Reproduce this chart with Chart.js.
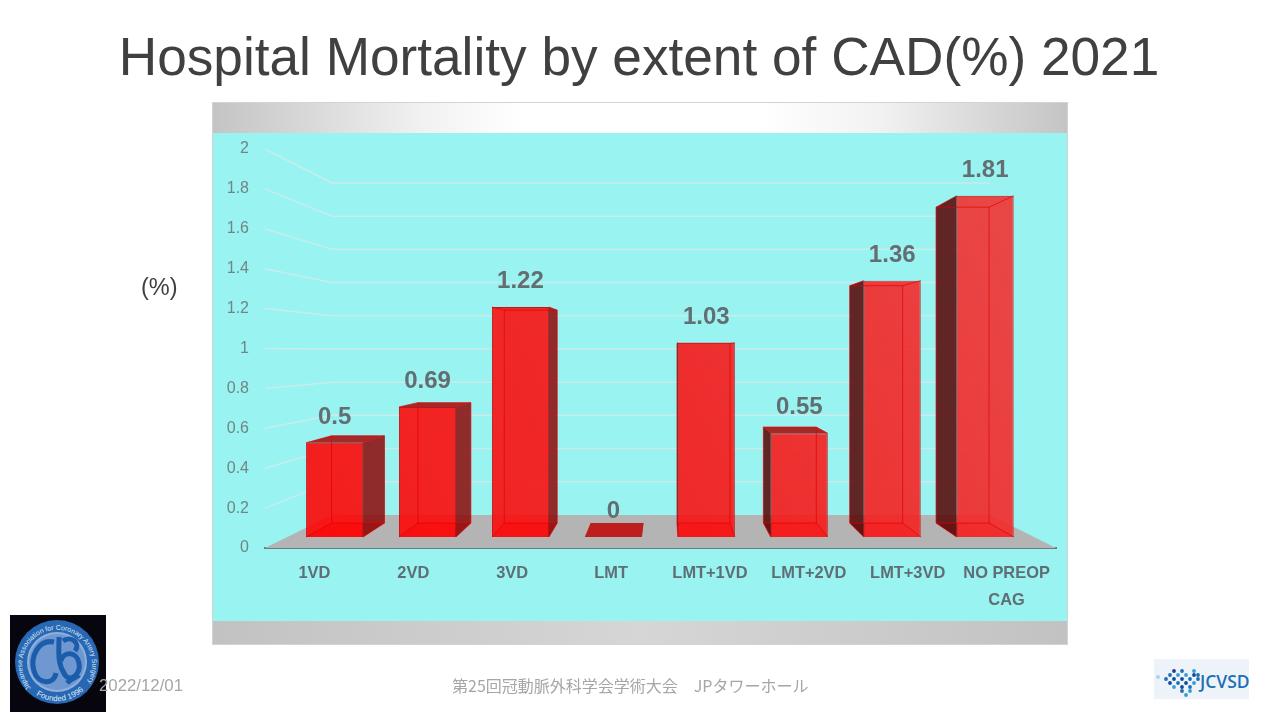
<!DOCTYPE html>
<html>
<head>
  <meta charset="UTF-8">
  <title>Hospital Mortality by extent of CAD(%) 2021</title>
  <script src="https://cdn.jsdelivr.net/npm/chart.js"></script>
  <style>
    html, body { margin: 0; padding: 0; background: #fff; }
    body { width: 1280px; height: 720px; position: relative; overflow: hidden; font-family: "Liberation Sans", sans-serif; }
    #title { position: absolute; left: 0; width: 1278px; top: 27px; text-align: center; font-size: 53.2px; line-height: 60px; color: #404040; white-space: nowrap; }
    #panel { position: absolute; left: 213px; top: 103px; width: 854px; height: 541px; background: #99f3f0; outline: 1px solid #d0d6d6; }
    #bandTop { position: absolute; left: 0; top: 0; width: 100%; height: 30px; background: linear-gradient(90deg, #c4c4c4 0%, #f2f2f2 25%, #fff 36%, #fff 64%, #f2f2f2 78%, #c4c4c4 100%); }
    #bandBottom { position: absolute; left: 0; bottom: 0; width: 100%; height: 23px; background: linear-gradient(90deg, #c2c2c2 0%, #d6d6d6 50%, #c2c2c2 100%); }
    #myChart { position: absolute; left: 0; top: 0; }
    #unit { position: absolute; left: 141px; top: 274px; font-size: 23.5px; line-height: 26px; color: #404040; }
    .foot { position: absolute; top: 675px; font-size: 16px; line-height: 20px; color: #a6a6a6; white-space: nowrap; }
    #date { left: 99px; top: 676px; font-size: 16.8px; }
    #venue { left: 452px; font-family: "Noto Sans CJK JP", sans-serif; font-size: 16px; }
    #emblem { position: absolute; left: 10px; top: 615px; }
    #jcvsd { position: absolute; left: 1154px; top: 659px; }
  </style>
</head>
<body>
  <div id="panel"><div id="bandTop"></div><div id="bandBottom"></div></div>
  <canvas id="myChart" width="1280" height="720"></canvas>
  <div id="title">Hospital Mortality by extent of CAD(%) 2021</div>
  <div id="unit">(%)</div>

  <svg id="emblem" width="96" height="97" viewBox="0 0 96 97">
    <rect width="96" height="97" fill="#07060f"/>
    <circle cx="47" cy="47" r="42" fill="#2767b4"/>
    <circle cx="47" cy="47" r="30" fill="#8fb0dc"/>
    <circle cx="47" cy="47" r="28" fill="#7098d0"/>
    <g fill="none" stroke="#1c5cad" stroke-width="5">
      <path d="M44 27 C28 24 20 42 24 56 C28 70 44 70 46 58"/>
      <path d="M49 22 C49 38 47 48 55 60 C61 68 71 58 69 48 C67 36 53 36 51 46"/>
      <path d="M53 26 C61 20 71 28 65 36"/>
      <path d="M57 68 C61 64 67 62 69 60"/>
    </g>
    <path id="arcTop" d="M21 73 A35 35 0 1 1 75 71" fill="none"/>
    <path id="arcBottom" d="M17 72 A39 39 0 0 0 77 72" fill="none"/>
    <text font-family="Liberation Sans" font-size="6.9" fill="#dfe9f7"><textPath href="#arcTop">Japanese Association for Coronary Artery Surgery</textPath></text>
    <text font-family="Liberation Sans" font-size="8" fill="#dfe9f7"><textPath href="#arcBottom" startOffset="12">Founded 1996</textPath></text>
  </svg>

  <div id="date" class="foot">2022/12/01</div>
  <div id="venue" class="foot">第25回冠動脈外科学会学術大会　JPタワーホール</div>

  <svg id="jcvsd" width="95" height="40" viewBox="0 0 95 40">
    <rect width="95" height="40" fill="#eef3fa"/>
    <g id="dots"></g>
    <text x="46" y="29" font-family="Open Sans, Liberation Sans" font-weight="600" font-size="17.5" fill="#1b6fb5">JCVSD</text>
  </svg>

  <script>
    const categories = ['1VD', '2VD', '3VD', 'LMT', 'LMT+1VD', 'LMT+2VD', 'LMT+3VD', ['NO PREOP', 'CAG']];
    const mortality = [0.5, 0.69, 1.22, 0, 1.03, 0.55, 1.36, 1.81];
    const yMin = 0;
    const yMax = 2;
    const yStep = 0.2;

    // depth planes of the fake 3D box: screen = offset + scale * (position on the axis plane)
    const barFront = { sx: 0.94, ox: 39, sy: 0.9449, oy: 19.2 };
    const barBack = { sx: 0.8734, ox: 83.4, sy: 0.8747, oy: 43.7 };
    const wall = { sx: 0.832, ox: 111.5, sy: 0.832, oy: 59 };

    function px(p, x) { return p.ox + p.sx * x; }
    function py(p, y) { return p.oy + p.sy * y; }

    function quad(ctx, pts, fill, stroke) {
      ctx.beginPath();
      pts.forEach((q, i) => i ? ctx.lineTo(q[0], q[1]) : ctx.moveTo(q[0], q[1]));
      ctx.closePath();
      if (fill) { ctx.fillStyle = fill; ctx.fill(); }
      if (stroke) { ctx.strokeStyle = stroke; ctx.lineWidth = 1; ctx.stroke(); }
    }

    // corners of one bar on a plane
    function corners(p, el) {
      const half = el.width / 2;
      return { l: px(p, el.x - half), r: px(p, el.x + half), t: py(p, el.y), b: py(p, el.base) };
    }

    const box3d = {
      id: 'box3d',
      beforeDatasetsDraw(chart) {
        const ctx = chart.ctx;
        const area = chart.chartArea;
        const y = chart.scales.y;

        ctx.save();
        // floor
        quad(ctx, [[area.left, area.bottom], [area.right, area.bottom],
          [px(wall, area.right), py(wall, area.bottom)], [px(wall, area.left), py(wall, area.bottom)]], '#b4b4b4');

        // wall grid, one bent line per tick
        ctx.strokeStyle = '#c8ecec';
        ctx.lineWidth = 1.5;
        y.ticks.forEach(t => {
          if (t.value === 0) return;
          const v = y.getPixelForValue(t.value);
          ctx.beginPath();
          ctx.moveTo(area.left, v);
          ctx.lineTo(px(wall, area.left), py(wall, v));
          ctx.lineTo(px(wall, area.right), py(wall, v));
          ctx.stroke();
        });

        // back and side faces, only the ones seen from outside are dark
        chart.getDatasetMeta(0).data.forEach(el => {
          const f = corners(barFront, el);
          const k = corners(barBack, el);
          quad(ctx, [[f.l, f.b], [f.r, f.b], [k.r, k.b], [k.l, k.b]], 'rgba(255,0,0,0.45)');
          if (el.y === el.base) {
            quad(ctx, [[f.l, f.t], [f.r, f.t], [k.r, k.t], [k.l, k.t]], '#bd1e1e');
            return;
          }
          if (k.r > f.r) quad(ctx, [[f.r, f.t], [k.r, k.t], [k.r, k.b], [f.r, f.b]], 'rgba(140,8,8,0.85)');
          if (k.l < f.l) quad(ctx, [[f.l, f.t], [k.l, k.t], [k.l, k.b], [f.l, f.b]], 'rgba(88,8,8,0.88)');
          if (k.t < f.t) quad(ctx, [[f.l, f.t], [f.r, f.t], [k.r, k.t], [k.l, k.t]], 'rgba(165,20,20,0.9)');
        });
        ctx.restore();

        // the real bars are drawn on the front plane of the box
        ctx.save();
        ctx.transform(barFront.sx, 0, 0, barFront.sy, barFront.ox, barFront.oy);
      },
      afterDatasetsDraw(chart) {
        const ctx = chart.ctx;
        ctx.restore();

        ctx.save();
        chart.getDatasetMeta(0).data.forEach((el, i) => {
          const f = corners(barFront, el);
          const k = corners(barBack, el);
          if (el.y !== el.base) {
            // hidden edges show through the glass
            const edge = 'rgba(225,0,0,0.7)';
            quad(ctx, [[k.l, k.t], [k.r, k.t], [k.r, k.b], [k.l, k.b]], null, edge);
            [['l', 't'], ['r', 't'], ['l', 'b'], ['r', 'b']].forEach(c => {
              ctx.beginPath();
              ctx.moveTo(f[c[0]], f[c[1]]);
              ctx.lineTo(k[c[0]], k[c[1]]);
              ctx.strokeStyle = edge;
              ctx.stroke();
            });
          }
          // value label
          ctx.fillStyle = '#636e72';
          ctx.font = 'bold 24px "Liberation Sans"';
          ctx.textAlign = 'center';
          ctx.textBaseline = 'middle';
          ctx.fillText(String(mortality[i]), (f.l + f.r) / 2, f.t - 25.5);
        });
        ctx.restore();
      }
    };

    let glass;
    function barFill(context) {
      if (!glass) {
        glass = context.chart.ctx.createLinearGradient(300, 540, 1000, 190);
        glass.addColorStop(0, 'rgba(255,0,0,0.88)');
        glass.addColorStop(0.5, 'rgba(250,15,15,0.88)');
        glass.addColorStop(1, 'rgba(240,55,55,0.92)');
      }
      return glass;
    }

    new Chart(document.getElementById('myChart'), {
      type: 'bar',
      data: {
        labels: categories,
        datasets: [{
          label: 'Hospital Mortality (%)',
          data: mortality,
          backgroundColor: barFill,
          borderColor: 'rgba(190,0,0,0.9)',
          borderWidth: 1,
          barPercentage: 0.613,
          categoryPercentage: 1,
          clip: false
        }]
      },
      plugins: [box3d],
      options: {
        responsive: false,
        animation: false,
        layout: { padding: { left: 0, right: 224, top: 149, bottom: 0 } },
        plugins: { legend: { display: false }, tooltip: { enabled: false }, title: { display: false } },
        scales: {
          x: {
            afterFit(s) { s.height = 172; },
            grid: { display: false, drawTicks: false },
            border: { display: true, color: '#6b7d84', width: 2 },
            ticks: {
              autoSkip: false, maxRotation: 0, padding: 12, color: '#5f6e74',
              font: { family: '"Liberation Sans"', size: 16.4, weight: 'bold', lineHeight: 1.64 }
            }
          },
          y: {
            min: yMin,
            max: yMax,
            afterFit(s) { s.width = 265; },
            grid: { display: false, drawTicks: false },
            border: { display: false },
            ticks: {
              stepSize: yStep, padding: 16, color: '#6f8686',
              font: { family: '"Liberation Sans"', size: 16 },
              callback: v => String(Math.round(v * 10) / 10)
            }
          }
        }
      }
    });

    // JCVSD logo mark
    const logoDots = document.getElementById('dots');
    [[4,18,'#9fd4ee'],[12,20,'#1b6fb5'],[16,16,'#1b6fb5'],[16,24,'#0f4c97'],[20,20,'#0f4c97'],[20,12,'#1d3f8f'],[20,28,'#2f9fd8'],
     [24,16,'#2f9fd8'],[24,24,'#1b6fb5'],[28,20,'#0f4c97'],[28,12,'#1b6fb5'],[28,28,'#0f4c97'],[28,32,'#1b6fb5'],[32,16,'#2f9fd8'],
     [32,24,'#0f4c97'],[32,36,'#2f9fd8'],[36,20,'#1b6fb5'],[36,28,'#1b6fb5'],[36,32,'#2f9fd8'],[40,16,'#0f4c97'],[40,24,'#2f9fd8'],
     [40,12,'#2f9fd8'],[44,20,'#1b6fb5'],[44,16,'#1b6fb5']].forEach(d => {
      const c = document.createElementNS('http://www.w3.org/2000/svg', 'circle');
      c.setAttribute('cx', d[0]);
      c.setAttribute('cy', d[1]);
      c.setAttribute('r', 1.9);
      c.setAttribute('fill', d[2]);
      logoDots.appendChild(c);
    });
  </script>
</body>
</html>
